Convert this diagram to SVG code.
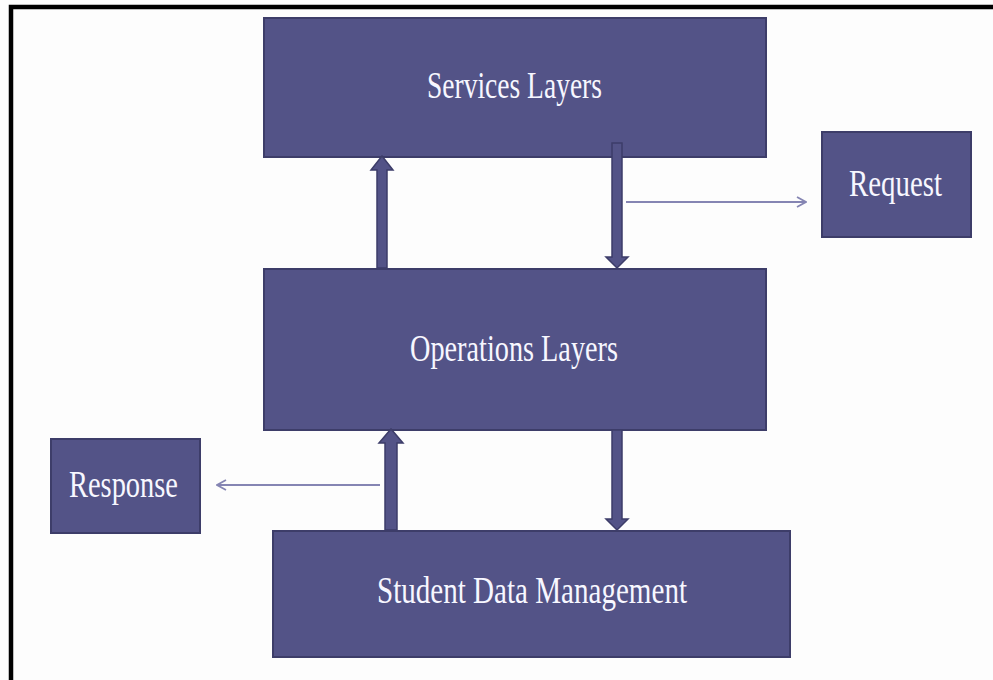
<svg xmlns="http://www.w3.org/2000/svg" width="993" height="680" viewBox="0 0 993 680">
<defs>
<style>
.box{fill:#535387;stroke:#3d3d69;stroke-width:2}
.lbl{font-family:"Liberation Serif",serif;font-size:37px;fill:#f7f7ff;}
.blk{fill:#535387;stroke:#3d3d69;stroke-width:1.5;stroke-linejoin:miter}
.thin{stroke:#8585b3;stroke-width:2;fill:none}
</style>
<marker id="chev" viewBox="0 0 12 12" refX="11" refY="6" markerWidth="12" markerHeight="12" markerUnits="userSpaceOnUse" orient="auto">
<path d="M2,1 L11,6 L2,11" fill="none" stroke="#8585b3" stroke-width="1.8"/>
</marker>
</defs>
<rect x="0" y="0" width="993" height="680" fill="#fdfdfd"/>
<path d="M11,680 V7 H993" fill="none" stroke="#000" stroke-width="4.5"/>
<g id="services"><rect class="box" x="264" y="18" width="502" height="139"/><text class="lbl" x="427" y="98" textLength="175" lengthAdjust="spacingAndGlyphs">Services Layers</text></g>
<g id="request"><rect class="box" x="822" y="132" width="149" height="105"/><text class="lbl" x="849" y="196" textLength="93" lengthAdjust="spacingAndGlyphs">Request</text></g>
<g id="operations"><rect class="box" x="264" y="269" width="502" height="161"/><text class="lbl" x="410" y="361" textLength="208" lengthAdjust="spacingAndGlyphs">Operations Layers</text></g>
<g id="response"><rect class="box" x="51" y="439" width="149" height="94"/><text class="lbl" x="69" y="497" textLength="109" lengthAdjust="spacingAndGlyphs">Response</text></g>
<g id="student"><rect class="box" x="273" y="531" width="517" height="126"/><text class="lbl" x="377" y="603" textLength="310" lengthAdjust="spacingAndGlyphs">Student Data Management</text></g>
<g id="connectors">
<polygon class="blk" points="377,268 387,268 387,170 393,170 382,156 371,170 377,170"/>
<polygon class="blk" points="612,143 622,143 622,257 628,257 617,268 606,257 612,257"/>
<polygon class="blk" points="385,530 397,530 397,443 403,443 391,429 379,443 385,443"/>
<polygon class="blk" points="612,430 622,430 622,519 628,519 617,530 606,519 612,519"/>
<line class="thin" x1="626" y1="202" x2="806" y2="202" marker-end="url(#chev)"/>
<line class="thin" x1="380" y1="485" x2="217" y2="485" marker-end="url(#chev)"/>
</g>
</svg>
